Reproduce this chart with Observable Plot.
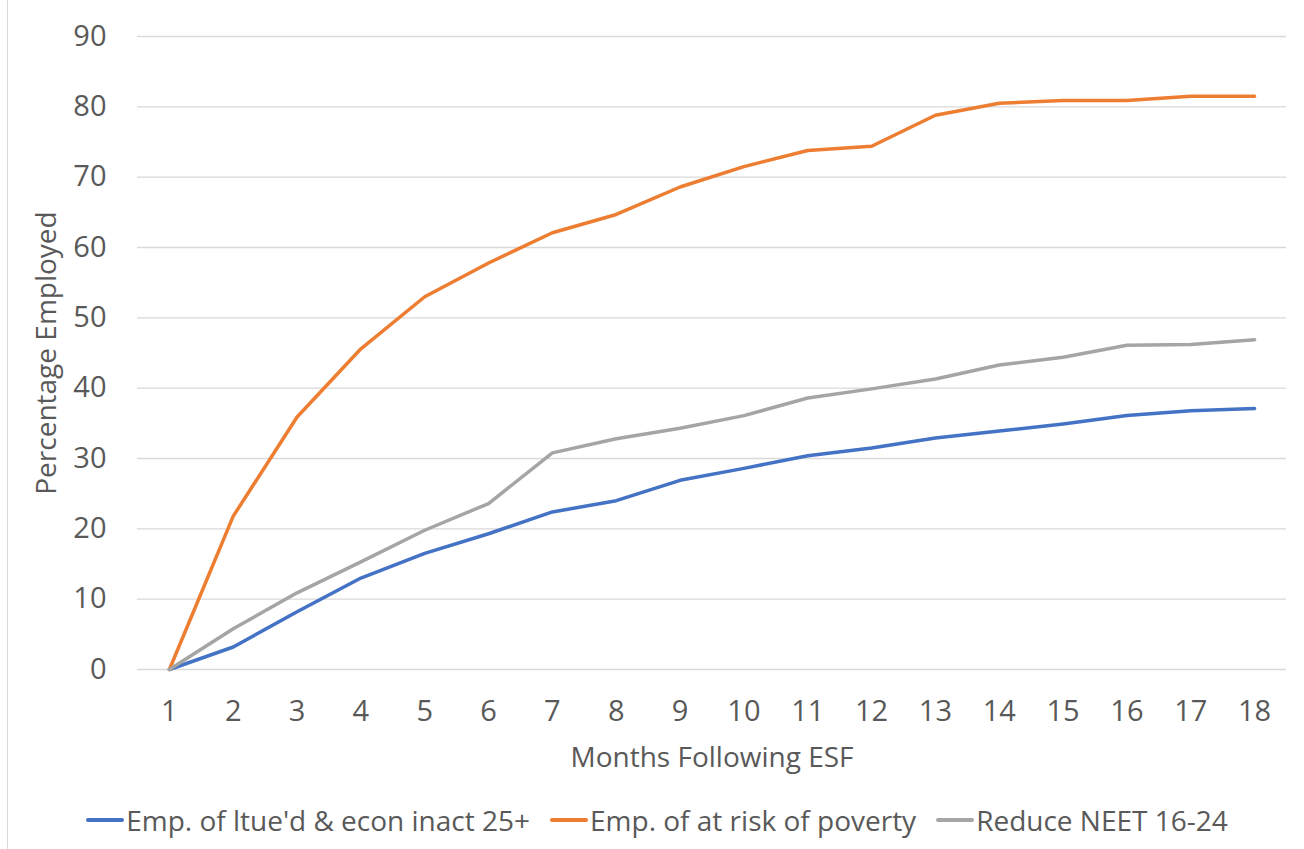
<!DOCTYPE html>
<html>
<head>
<meta charset="utf-8">
<script src="https://cdn.jsdelivr.net/npm/d3@7"></script>
<script src="https://cdn.jsdelivr.net/npm/@observablehq/plot@0.6"></script>
<style>
  html, body { margin: 0; padding: 0; background: #fff; overflow: hidden; }
  #wrap { position: relative; width: 1304px; height: 849px; font-family: "Open Sans", sans-serif; }
  #wrap::before { content: ""; position: absolute; left: 7px; top: 0; bottom: 0; border-left: 1px solid #d9d9d9; }
  #legend { height: 59px; display: flex; justify-content: center; align-items: center; gap: 20px;
            font-size: 28px; color: #595959; padding-left: 10px; box-sizing: border-box; }
  .item { display: flex; align-items: center; }
  .sw { display: inline-block; width: 38px; height: 4px; border-radius: 2px; margin-right: 2px; }
  svg text { fill: #595959; }
</style>
</head>
<body>
<div id="wrap">
  <div id="chart"></div>
  <div id="legend"></div>
</div>
<script>
// Months after leaving the ESF programme
const months = [1, 2, 3, 4, 5, 6, 7, 8, 9, 10, 11, 12, 13, 14, 15, 16, 17, 18];

// Series names and colours
const seriesNames = ["Emp. of ltue'd & econ inact 25+", "Emp. of at risk of poverty", "Reduce NEET 16-24"];
const seriesColors = ["#4472c4", "#ed7d31", "#a5a5a5"];

// Percentage employed, per month
const ltueInactive = [0, 3.2, 8.2, 13.0, 16.5, 19.3, 22.4, 24.0, 26.9, 28.6, 30.4, 31.5, 32.9, 33.9, 34.9, 36.1, 36.8, 37.1];
const atRiskPoverty = [0, 21.8, 35.9, 45.6, 53.0, 57.8, 62.1, 64.7, 68.6, 71.5, 73.8, 74.4, 78.8, 80.5, 80.9, 80.9, 81.5, 81.5];
const reduceNeet = [0, 5.8, 10.9, 15.3, 19.8, 23.6, 30.8, 32.8, 34.3, 36.1, 38.6, 39.9, 41.3, 43.3, 44.4, 46.1, 46.2, 46.9];

// Y-axis tick values
const yTicks = [0, 10, 20, 30, 40, 50, 60, 70, 80, 90];

const seriesValues = [ltueInactive, atRiskPoverty, reduceNeet];
const rows = seriesNames.flatMap((name, s) =>
  months.map((m, i) => ({series: name, month: m, value: seriesValues[s][i]}))
);

const chart = Plot.plot({
  width: 1304,
  height: 790,
  marginLeft: 137,
  marginRight: 18,
  marginTop: 36,
  marginBottom: 121,
  style: {fontFamily: "'Open Sans', sans-serif", color: "#595959", background: "transparent"},
  x: {type: "point", domain: months, padding: 0.5, round: false},
  y: {domain: [0, 90]},
  color: {domain: seriesNames, range: seriesColors},
  marks: [
    Plot.gridY(yTicks, {stroke: "#d9d9d9", strokeOpacity: 1, strokeWidth: 1.3}),
    Plot.axisY(yTicks, {
      tickSize: 0, tickPadding: 31, fontSize: 29,
      label: "Percentage Employed", labelAnchor: "center", labelArrow: "none", labelOffset: 101
    }),
    Plot.axisX(months, {
      tickSize: 0, tickPadding: 31, fontSize: 29,
      label: "Months Following ESF", labelAnchor: "center", labelArrow: "none", labelOffset: 97
    }),
    Plot.line(rows, {
      x: "month", y: "value", z: "series", stroke: "series",
      strokeWidth: 3.5, strokeLinejoin: "round", strokeLinecap: "round"
    })
  ]
});

d3.select(chart).selectAll("g[aria-label='y-axis label'] text, g[aria-label='x-axis label'] text")
  .style("font-size", "28px");

document.getElementById("chart").appendChild(chart);

const legend = d3.select("#legend");
seriesNames.forEach((name, i) => {
  const item = legend.append("div").attr("class", "item");
  item.append("span").attr("class", "sw").style("background", seriesColors[i]);
  item.append("span").text(name);
});
</script>
</body>
</html>
